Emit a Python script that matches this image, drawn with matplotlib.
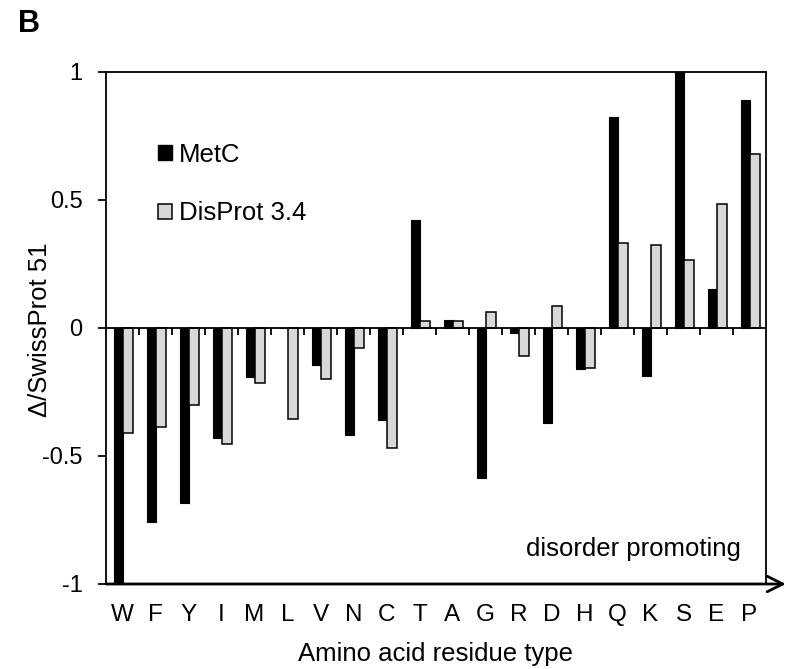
import numpy as np
import matplotlib
matplotlib.use('Agg')
import matplotlib.pyplot as plt
from matplotlib.patches import Patch

plt.rcParams['font.family'] = ['Liberation Sans', 'DejaVu Sans']

# residues ordered from order promoting to disorder promoting
residues = ['W', 'F', 'Y', 'I', 'M', 'L', 'V', 'N', 'C', 'T',
            'A', 'G', 'R', 'D', 'H', 'Q', 'K', 'S', 'E', 'P']
metc = [-1.0, -0.758, -0.684, -0.431, -0.193, 0.0, -0.143, -0.419, -0.359, 0.42,
        0.032, -0.587, -0.02, -0.372, -0.16, 0.824, -0.189, 1.0, 0.151, 0.889]
disprot = [-0.409, -0.385, -0.30, -0.453, -0.215, -0.357, -0.198, -0.078, -0.469, 0.026,
           0.026, 0.0625, -0.109, 0.085, -0.157, 0.332, 0.325, 0.264, 0.484, 0.678]

grey = '#d8d8d8'
bar_w = 0.285

fig = plt.figure(figsize=(7.88, 6.69), dpi=100)
ax = fig.add_axes([106 / 788, 85 / 669, 660 / 788, 512 / 669])

x = np.arange(len(residues))
ax.bar(x + 0.235, metc, width=bar_w, align='edge', color='black',
       edgecolor='black', linewidth=0.8, zorder=3)
ax.bar(x + 0.235 + bar_w, disprot, width=bar_w, align='edge', color=grey,
       edgecolor='black', linewidth=1.1, zorder=3)

ax.set_xlim(0, len(residues))
ax.set_ylim(-1, 1)

# zero line with short marks between residue groups
ax.axhline(0, color='black', lw=1.3, zorder=4)
ax.vlines(np.arange(1, len(residues)), -0.027, 0, color='black', lw=1.3, zorder=4)

# bottom axis drawn as an arrow
ax.spines['bottom'].set_visible(False)
ax.annotate('', xy=(1.03, 0), xycoords='axes fraction', xytext=(0, 0),
            textcoords='axes fraction',
            arrowprops=dict(arrowstyle='->', lw=2.0, color='black',
                            mutation_scale=28, shrinkA=0, shrinkB=0))
for s in ['top', 'left', 'right']:
    ax.spines[s].set_linewidth(1.3)

ax.set_yticks([-1, -0.5, 0, 0.5, 1])
ax.set_yticklabels(['-1', '-0.5', '0', '0.5', '1'])
ax.tick_params(axis='y', direction='out', length=6, width=1.3, labelsize=17, pad=11)
ax.set_xticks(x + 0.5)
ax.set_xticklabels(residues)
ax.tick_params(axis='x', length=0, labelsize=17.5, pad=14.5)

fig.text(436 / 788, 1 - 654 / 669, 'Amino acid residue type', fontsize=18.5,
         ha='center', va='center')
fig.text(40 / 788, 1 - 330 / 669, 'Δ/SwissProt 51', fontsize=18.5,
         rotation=90, ha='center', va='center')

handles = [Patch(facecolor='black', edgecolor='black', label='MetC'),
           Patch(facecolor=grey, edgecolor='black', linewidth=1.1, label='DisProt 3.4')]
ax.legend(handles=handles, loc='upper left', bbox_to_anchor=(0.079, 0.862),
          frameon=False, fontsize=18.5, handlelength=0.55, handleheight=0.55,
          handletextpad=0.25, labelspacing=1.35, borderpad=0, borderaxespad=0)

ax.text(0.962, 0.068, 'disorder promoting', transform=ax.transAxes,
        ha='right', va='center', fontsize=18.5)

fig.text(18 / 788, 1 - 24 / 669, 'B', fontsize=22, fontweight='bold',
         ha='left', va='center')

fig.savefig('out.png', dpi=100)
